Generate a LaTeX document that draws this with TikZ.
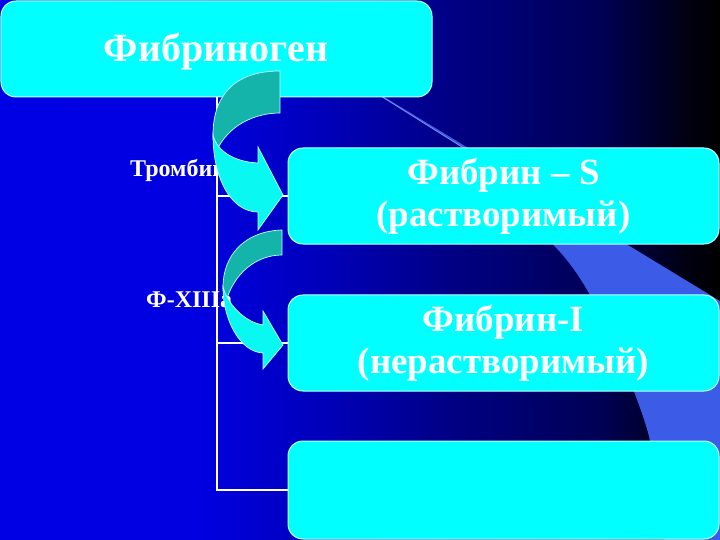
\documentclass[tikz,border=0pt]{standalone}
\usepackage{fontspec}
\setmainfont{Liberation Serif}
\pgfdeclarehorizontalshading{bgshade}{100bp}{rgb(0bp)=(0,0,0.9); rgb(25bp)=(0,0,0.9); rgb(38.9bp)=(0,0,0.88); rgb(47.9bp)=(0,0,0.72); rgb(56.25bp)=(0,0,0.52); rgb(66.7bp)=(0,0,0.33); rgb(72.9bp)=(0,0,0.06); rgb(75bp)=(0,0,0); rgb(100bp)=(0,0,0)}
\definecolor{boxcyan}{RGB}{0,255,255}
\definecolor{boxline}{RGB}{190,255,255}
\definecolor{wedgeblue}{RGB}{60,92,232}
\definecolor{tealback}{RGB}{20,180,170}
\definecolor{arrowfront}{RGB}{10,248,242}
\begin{document}
\begin{tikzpicture}[x=1bp,y=-1bp,
  box/.style={rounded corners=15bp, fill=boxcyan, draw=boxline, line width=1bp,
    minimum width=431bp, inner sep=0pt, text=white, align=center,
    font=\fontsize{37bp}{42bp}\selectfont\bfseries},
  bigtext/.style={text=white, inner sep=0pt, font=\fontsize{40bp}{46bp}\selectfont\bfseries},
  lbl/.style={text=white, inner sep=0pt, font=\fontsize{24bp}{28bp}\selectfont\bfseries},
  conn/.style={draw=white, line width=2bp},
  backband/.style={fill=tealback, draw=boxline, line width=0.7bp},
  frontband/.style={fill=arrowfront, draw=boxline, line width=0.7bp}]
\useasboundingbox (0,0) rectangle (720,540);
\shade[shading=bgshade] (0,0) rectangle (720,540);
% light wedge of the background
\fill[wedgeblue] (376,92) -- (720,301) -- (720,545) -- (665,545) -- (650,441)
  .. controls (645,415) and (615,340) .. (590,295)
  .. controls (575,268) and (560,250) .. (540,232)
  .. controls (510,200) and (485,168) .. (462,147) -- (374,92) -- cycle;
\draw[wedgeblue!70!white, line width=0.8bp] (376,93) -- (462,147);
% boxes
\node[box, minimum height=96bp] (top) at (216.5,49) {};
\node[box, minimum height=96bp] (b2) at (503.5,196) {Фибрин – S\\(растворимый)};
\node[box, minimum height=96bp] (b3) at (503.5,343) {Фибрин-I\\(нерастворимый)};
\node[box, minimum height=98bp] (b4) at (503.5,490) {};
\node[bigtext, anchor=base] (t1) at (216,62) {Фибриноген};
% connectors
\draw[conn] (top.south) -- (top.south |- b4.west) -- (b4.west);
\draw[conn] (top.south |- b2.west) -- (b2.west);
\draw[conn] (top.south |- b3.west) -- (b3.west);
% labels
\node[lbl, anchor=base west] (thr) at (130,177) {Тромбин};
\node[lbl, anchor=base west] (f13) at (146,307) {Ф-XIIIa};
% curved arrow 1
\filldraw[backband] (280,71) .. controls (232,71) and (213,98) .. (213,135)
  .. controls (213,142) and (214,147) .. (216,152)
  .. controls (228,125) and (255,113) .. (280,113) -- cycle;
\filldraw[frontband] (213,135) .. controls (213,180) and (232,212) .. (258,212)
  -- (258,230) -- (283,195) -- (258,147) -- (258,163)
  .. controls (236,162) and (217,152) .. (213,135) -- cycle;
% curved arrow 2
\filldraw[backband] (282,230) .. controls (245,231) and (223,255) .. (223,287)
  .. controls (223,292) and (224,297) .. (226,302)
  .. controls (233,275) and (255,255) .. (282,255) -- cycle;
\filldraw[frontband] (223,287) .. controls (223,320) and (240,352) .. (263,353)
  -- (263,369) -- (283,345) -- (263,311) -- (263,325)
  .. controls (245,322) and (228,305) .. (223,287) -- cycle;
\end{tikzpicture}
\end{document}
